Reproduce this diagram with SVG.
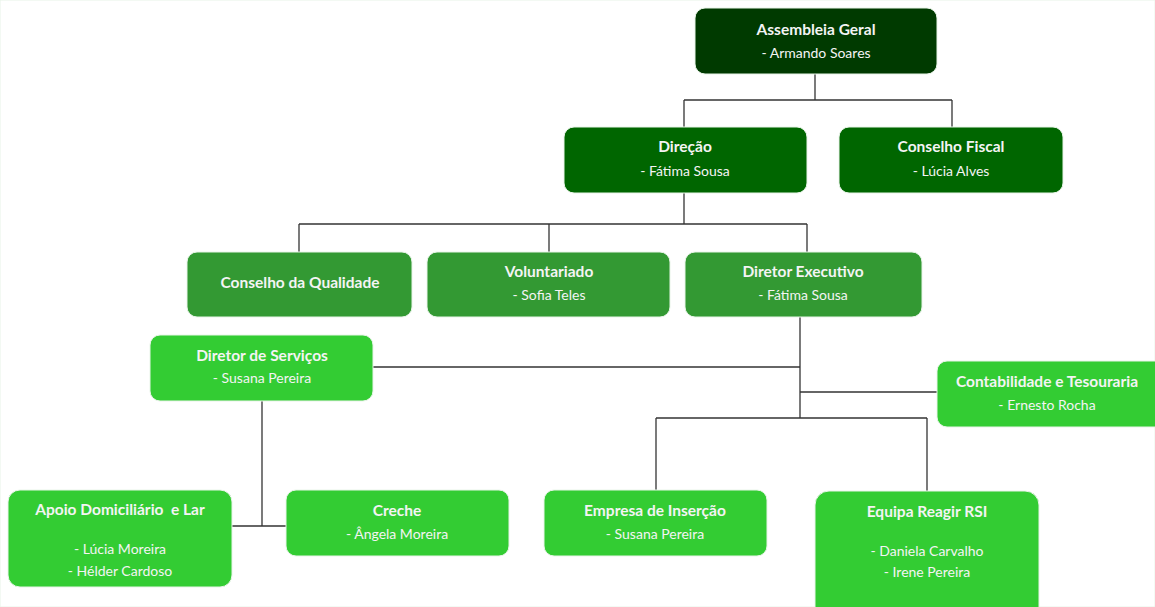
<svg xmlns="http://www.w3.org/2000/svg" width="1155" height="607" viewBox="0 0 1155 607">
<style>
.l1{fill:#003a00}
.l2{fill:#006600}
.l3{fill:#339933}
.l4{fill:#33cc33}
rect{stroke:#e8f4e8;stroke-width:1}
text{font-family:Lato,"Open Sans","Liberation Sans",sans-serif;fill:#f4f4f4;text-anchor:middle}
.t{font-weight:bold;font-size:15.5px}
.s{font-size:14px}
.c line{stroke:#333333;stroke-width:1.3}
</style>
<rect width="1155" height="607" fill="#ffffff" stroke="none"/>
<g class="c" id="connectors">
<line x1="815" y1="74" x2="815" y2="100"/>
<line x1="684" y1="100" x2="952" y2="100"/>
<line x1="684" y1="100" x2="684" y2="127"/>
<line x1="952" y1="100" x2="952" y2="127"/>
<line x1="684" y1="193" x2="684" y2="224"/>
<line x1="299" y1="224" x2="807" y2="224"/>
<line x1="299" y1="224" x2="299" y2="252"/>
<line x1="549" y1="224" x2="549" y2="252"/>
<line x1="807" y1="224" x2="807" y2="252"/>
<line x1="800" y1="317" x2="800" y2="418"/>
<line x1="373" y1="367" x2="800" y2="367"/>
<line x1="800" y1="392" x2="937" y2="392"/>
<line x1="656" y1="418" x2="927" y2="418"/>
<line x1="656" y1="418" x2="656" y2="490"/>
<line x1="927" y1="418" x2="927" y2="491"/>
<line x1="262" y1="401" x2="262" y2="526"/>
<line x1="232" y1="526" x2="286" y2="526"/>
</g>
<g id="assembleia">
<rect class="l1" x="695" y="8" width="242" height="66" rx="10"/>
<text class="t" x="816" y="35">Assembleia Geral</text>
<text class="s" x="816" y="58">- Armando Soares</text>
</g>
<g id="direcao">
<rect class="l2" x="564" y="127" width="243" height="66" rx="10"/>
<text class="t" x="685" y="152">Direção</text>
<text class="s" x="685" y="176">- Fátima Sousa</text>
</g>
<g id="conselho-fiscal">
<rect class="l2" x="839" y="127" width="224" height="66" rx="10"/>
<text class="t" x="951" y="152">Conselho Fiscal</text>
<text class="s" x="951" y="176">- Lúcia Alves</text>
</g>
<g id="conselho-qualidade">
<rect class="l3" x="187" y="252" width="225" height="65" rx="10"/>
<text class="t" x="300" y="288">Conselho da Qualidade</text>
</g>
<g id="voluntariado">
<rect class="l3" x="427" y="252" width="243" height="65" rx="10"/>
<text class="t" x="549" y="277">Voluntariado</text>
<text class="s" x="549" y="300">- Sofia Teles</text>
</g>
<g id="diretor-executivo">
<rect class="l3" x="685" y="252" width="237" height="65" rx="10"/>
<text class="t" x="803" y="277">Diretor Executivo</text>
<text class="s" x="803" y="300">- Fátima Sousa</text>
</g>
<g id="diretor-servicos">
<rect class="l4" x="150" y="335" width="223" height="66" rx="10"/>
<text class="t" x="262" y="361">Diretor de Serviços</text>
<text class="s" x="262" y="383">- Susana Pereira</text>
</g>
<g id="contabilidade">
<rect class="l4" x="937" y="361" width="228" height="66" rx="10"/>
<text class="t" x="1047" y="387">Contabilidade e Tesouraria</text>
<text class="s" x="1047" y="410">- Ernesto Rocha</text>
</g>
<g id="apoio">
<rect class="l4" x="8" y="490" width="224" height="97" rx="12"/>
<text class="t" x="120" y="515" style="white-space:pre">Apoio Domiciliário  e Lar</text>
<text class="s" x="120" y="554">- Lúcia Moreira</text>
<text class="s" x="120" y="576">- Hélder Cardoso</text>
</g>
<g id="creche">
<rect class="l4" x="286" y="490" width="223" height="66" rx="10"/>
<text class="t" x="397" y="516">Creche</text>
<text class="s" x="397" y="539">- Ângela Moreira</text>
</g>
<g id="empresa">
<rect class="l4" x="544" y="490" width="223" height="66" rx="10"/>
<text class="t" x="655" y="516">Empresa de Inserção</text>
<text class="s" x="655" y="539">- Susana Pereira</text>
</g>
<g id="equipa">
<rect class="l4" x="815" y="491" width="224" height="130" rx="14"/>
<text class="t" x="927" y="517">Equipa Reagir RSI</text>
<text class="s" x="927" y="556">- Daniela Carvalho</text>
<text class="s" x="927" y="577">- Irene Pereira</text>
</g>
</svg>
